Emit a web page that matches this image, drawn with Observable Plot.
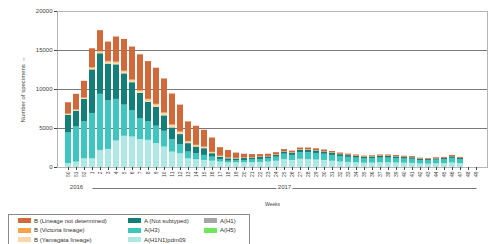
<!DOCTYPE html>
<html><head><meta charset="utf-8">
<script src="https://cdn.jsdelivr.net/npm/d3@7"></script>
<script src="https://cdn.jsdelivr.net/npm/@observablehq/plot@0.6"></script>
<style>
html,body{margin:0;padding:0;background:#fff;}
body{width:496px;height:244px;position:relative;overflow:hidden;font-family:"Liberation Sans",Arial,sans-serif;}
#chart{position:absolute;left:0;top:0;}
#legend{position:absolute;left:8px;top:214px;width:242px;height:40px;border:1px solid #8a8a8a;box-sizing:border-box;background:#fff;}
.item{position:absolute;font-size:6px;color:#333;white-space:nowrap;line-height:6px;}
.sw{position:absolute;width:13px;height:5px;}
</style></head><body>
<div id="chart"></div><div id="legend"></div>
<script>
const weeks = ["50","51","52","1","2","3","4","5","6","7","8","9","10","11","12","13","14","15","16","17","18","19","20","21","22","23","24","25","26","27","28","29","30","31","32","33","34","35","36","37","38","39","40","41","42","43","44","45","46","47","48","49"];
const years = ["2016","2017"];
const seriesNames = ["A(H1N1)pdm09","A(H3)","A (Not subtyped)","B (Yamagata lineage)","B (Victoria lineage)","B (Lineage not determined)"];
const pdm09 = [500,690,1120,1120,2190,2320,3400,4000,3910,3570,3480,3060,2620,1970,1770,1120,990,900,810,690,600,600,600,620,650,700,800,1000,900,1050,1000,950,900,800,700,650,600,550,560,600,600,580,550,530,450,430,470,490,580,490,0,0];
const h3 = [3925,4510,4730,5810,7190,6240,5330,4000,3400,2710,2370,2230,2020,1600,1160,860,780,650,520,340,210,250,300,350,380,420,520,700,650,850,900,850,800,750,700,650,600,550,570,600,600,570,540,520,450,430,470,490,590,490,0,0];
const notSubtyped = [2275,2024,2880,5580,5200,4690,4430,4000,3560,3220,2490,2410,1980,1500,1290,1080,850,860,440,300,310,250,250,250,250,250,260,300,280,320,330,330,300,270,250,230,220,200,210,220,220,210,200,200,170,160,170,180,210,180,0,0];
const yamagata = [100,100,120,200,200,250,250,250,250,250,300,300,300,300,250,200,150,150,120,80,60,50,40,30,30,30,30,30,30,30,30,30,30,30,25,25,25,20,20,25,25,20,20,20,20,20,20,20,25,20,0,0];
const victoria = [50,60,60,100,100,100,100,100,100,100,100,100,100,100,100,80,80,60,50,40,30,20,20,20,20,20,20,20,20,20,20,20,20,15,15,15,15,15,15,15,15,15,15,15,10,10,10,10,15,10,0,0];
const bUndetermined = [1450,2000,2140,2410,2660,2480,3220,4070,4220,4600,4840,4630,4330,3950,3430,2510,2440,2150,1840,1090,980,680,490,380,320,280,270,250,220,230,220,220,200,185,160,150,140,125,125,140,140,135,125,115,100,100,110,110,130,110,0,0];
const seriesValues = [pdm09,h3,notSubtyped,yamagata,victoria,bUndetermined];
const seriesColors = ["#aee8e4","#3cc6bd","#127f78","#f9d7a9","#f4a347","#d2693a"];
const yTicks = [0,5000,10000,15000,20000];
const legendCols = [
  [["B (Lineage not determined)","#d2693a"],["B (Victoria lineage)","#f4a347"],["B (Yamagata lineage)","#f9d7a9"]],
  [["A (Not subtyped)","#127f78"],["A(H3)","#3cc6bd"],["A(H1N1)pdm09","#aee8e4"]],
  [["A(H1)","#a6a6a6"],["A(H5)","#6ee85a"]]
];

const data = [];
seriesNames.forEach((s,k)=>seriesValues[k].forEach((v,i)=>data.push({week:weeks[i],series:s,value:v})));

const plot = Plot.plot({
  width:496, height:208,
  marginLeft:57, marginRight:9, marginTop:11, marginBottom:41,
  style:{fontFamily:"Liberation Sans, Arial, sans-serif", fontSize:"6px", color:"#444", background:"transparent"},
  x:{domain:weeks, padding:0.3, label:null},
  y:{domain:[0,20000], label:null},
  color:{domain:seriesNames, range:seriesColors},
  marks:[
    Plot.frame({stroke:"#b5b5b5"}),
    Plot.gridY([5000,10000,15000], {stroke:"#7a7a7a", strokeOpacity:1}),
    Plot.barY(data, {x:"week", y:"value", fill:"series"}),
    Plot.axisY({ticks:yTicks, tickSize:3, tickPadding:2, tickFormat:d3.format("d"), fontSize:6, label:"Number of specimens", labelAnchor:"center", labelOffset:37}),
    Plot.axisX({tickRotate:-90, tickSize:3, tickPadding:1, fontSize:5, label:"Weeks", labelAnchor:"center", labelOffset:38}),
    Plot.text([{w:"51",t:years[0]},{w:"25",t:years[1]}], {x:"w", text:"t", frameAnchor:"bottom", dy:21, fontSize:6, fill:"#444"}),
    Plot.link([{a:"1",b:"24"},{a:"26",b:"49"}], {x1:"a", x2:"b", y1:()=>0, y2:()=>0, dy:21, stroke:"#777"})
  ]
});
document.getElementById("chart").appendChild(plot);

const legend = document.getElementById("legend");
const colX = [9,119,195];
legendCols.forEach((col,c)=>col.forEach(([name,color],r)=>{
  const sw = document.createElement("div");
  sw.className="sw"; sw.style.left=colX[c]+"px"; sw.style.top=(3+r*9.5)+"px"; sw.style.background=color;
  legend.appendChild(sw);
  const t = document.createElement("div");
  t.className="item"; t.style.left=(colX[c]+16)+"px"; t.style.top=(2.5+r*9.5)+"px"; t.textContent=name;
  legend.appendChild(t);
}));
</script>
</body></html>
